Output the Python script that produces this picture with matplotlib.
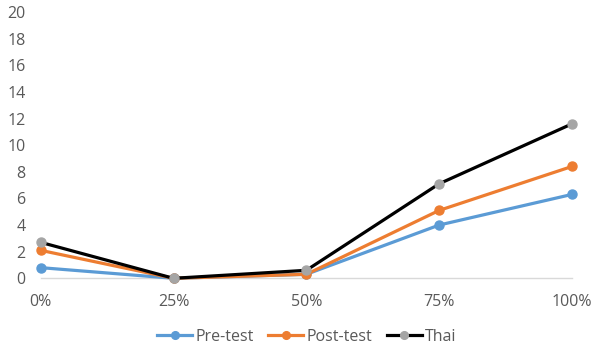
import matplotlib.pyplot as plt

categories = ['0%', '25%', '50%', '75%', '100%']
pre_test = [0.8, 0.0, 0.3, 4.0, 6.3]
post_test = [2.1, 0.0, 0.3, 5.1, 8.4]
thai = [2.7, 0.0, 0.6, 7.1, 11.6]

plt.rcParams['font.family'] = ['Open Sans', 'DejaVu Sans']

fig = plt.figure(figsize=(5.99, 3.5), dpi=100)
ax = fig.add_axes([40.7 / 599, 1 - 278.3 / 350, (572 - 40.7) / 599, (278.3 - 12) / 350])

x = range(len(categories))
ax.plot(x, pre_test, color='#5B9BD5', lw=2.3, marker='o', ms=6.5, label='Pre-test')
ax.plot(x, post_test, color='#ED7D31', lw=2.3, marker='o', ms=6.5, label='Post-test')
ax.plot(x, thai, color='black', lw=2.3, marker='o', ms=6.5,
        mfc='#A5A5A5', mec='#A5A5A5', label='Thai')

ax.set_xlim(0, len(categories) - 1)
ax.set_ylim(0, 20)
ax.set_yticks(range(0, 21, 2))
ax.set_xticks(list(x))
ax.set_xticklabels(categories)

for s in ['top', 'right', 'left']:
    ax.spines[s].set_visible(False)
ax.spines['bottom'].set_color('#D9D9D9')
ax.spines['bottom'].set_linewidth(1)
ax.spines['bottom'].set_zorder(0)
ax.tick_params(length=0, labelsize=11.5, colors='#595959')
ax.tick_params(axis='y', pad=11)
ax.tick_params(axis='x', pad=11)
for line in ax.get_lines():
    line.set_clip_on(False)

leg = fig.legend(loc='center', bbox_to_anchor=(0.512, 1 - 337 / 350), ncol=3,
                 frameon=False, fontsize=11.5, handlelength=2.2,
                 columnspacing=0.9, handletextpad=0.2, markerscale=0.85)
for t in leg.get_texts():
    t.set_color('#595959')

fig.savefig('out.png', dpi=100)
